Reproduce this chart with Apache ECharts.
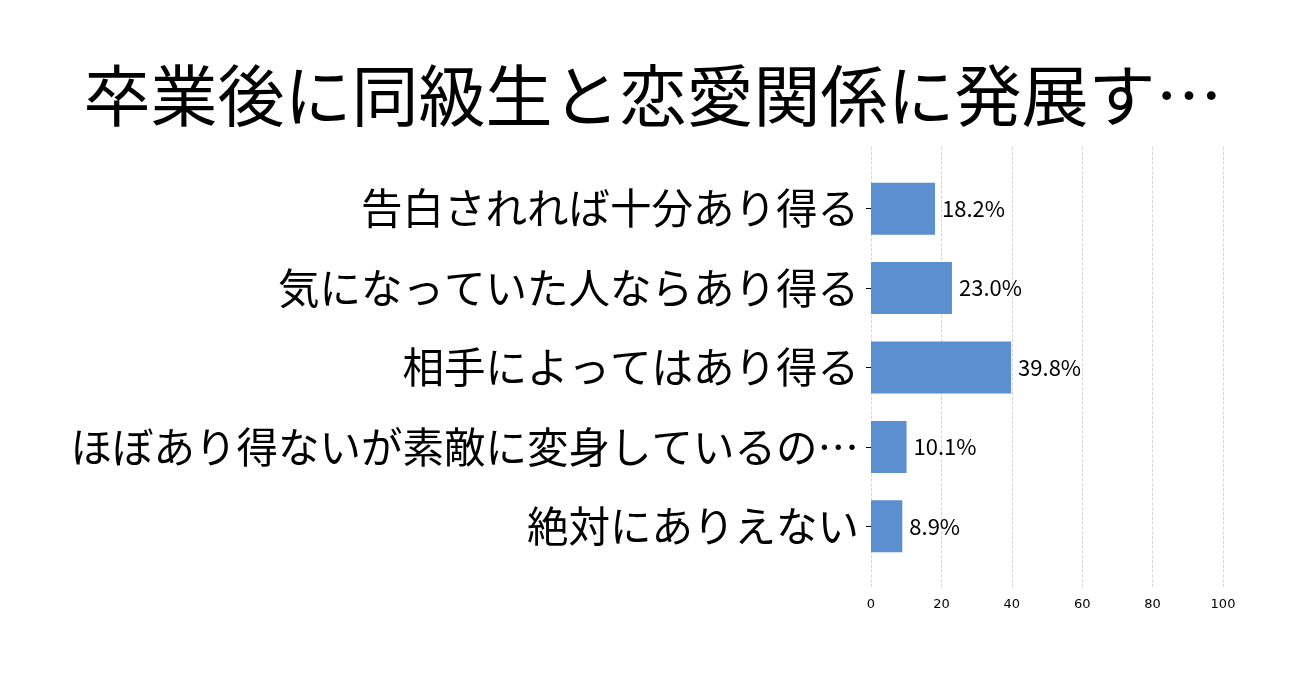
<!DOCTYPE html>
<html><head><meta charset="utf-8">
<script src="https://cdn.jsdelivr.net/npm/echarts@6/dist/echarts.min.js"></script>
<style>html,body{margin:0;padding:0;background:#fff}#c{width:1306px;height:683px}</style>
</head><body><div id="c"></div>
<script>
const titleText = '卒業後に同級生と恋愛関係に発展す…';
const categories = ['告白されれば十分あり得る','気になっていた人ならあり得る','相手によってはあり得る','ほぼあり得ないが素敵に変身しているの…','絶対にありえない'];
const values = [18.2, 23.0, 39.8, 10.1, 8.9];
const xTicks = [0, 20, 40, 60, 80, 100];

const chart = echarts.init(document.getElementById('c'));
const jp = '"Noto Sans CJK JP", sans-serif';
chart.setOption({
  backgroundColor: '#fff',
  animation: false,
  title: {
    text: titleText, left: 'center', top: 57,
    textStyle: {fontFamily: jp, fontSize: 67, fontWeight: 'normal', color: '#000'}
  },
  grid: [
    {left: 871, right: 83, top: 147, bottom: 95},
    {left: 871, right: 83, top: 169, bottom: 117}
  ],
  xAxis: [
    {gridIndex: 0, type: 'value', min: xTicks[0], max: xTicks[xTicks.length-1], interval: 20,
     axisLine: {show: false}, axisTick: {show: false},
     axisLabel: {color: '#000', fontFamily: 'DejaVu Sans', fontSize: 13, margin: 10},
     splitLine: {show: true, lineStyle: {color: '#cccccc', type: 'dashed', width: 0.8}}},
    {gridIndex: 1, type: 'value', min: 0, max: 100, show: false}
  ],
  yAxis: [
    {gridIndex: 0, type: 'value', show: false},
    {gridIndex: 1, type: 'category', data: categories, inverse: true,
     axisLine: {show: false},
     axisTick: {show: true, alignWithLabel: true, length: 5, lineStyle: {color: '#000'}},
     axisLabel: {color: '#000', fontFamily: jp, fontSize: 41.5, margin: 12}}
  ],
  series: [{
    type: 'bar', xAxisIndex: 1, yAxisIndex: 1, data: values,
    barWidth: 52, itemStyle: {color: '#5b8fd0'},
    label: {show: true, position: 'right', distance: 7, color: '#000', fontFamily: jp, fontSize: 22,
      formatter: p => p.value.toFixed(1) + '%'}
  }]
});
</script></body></html>
